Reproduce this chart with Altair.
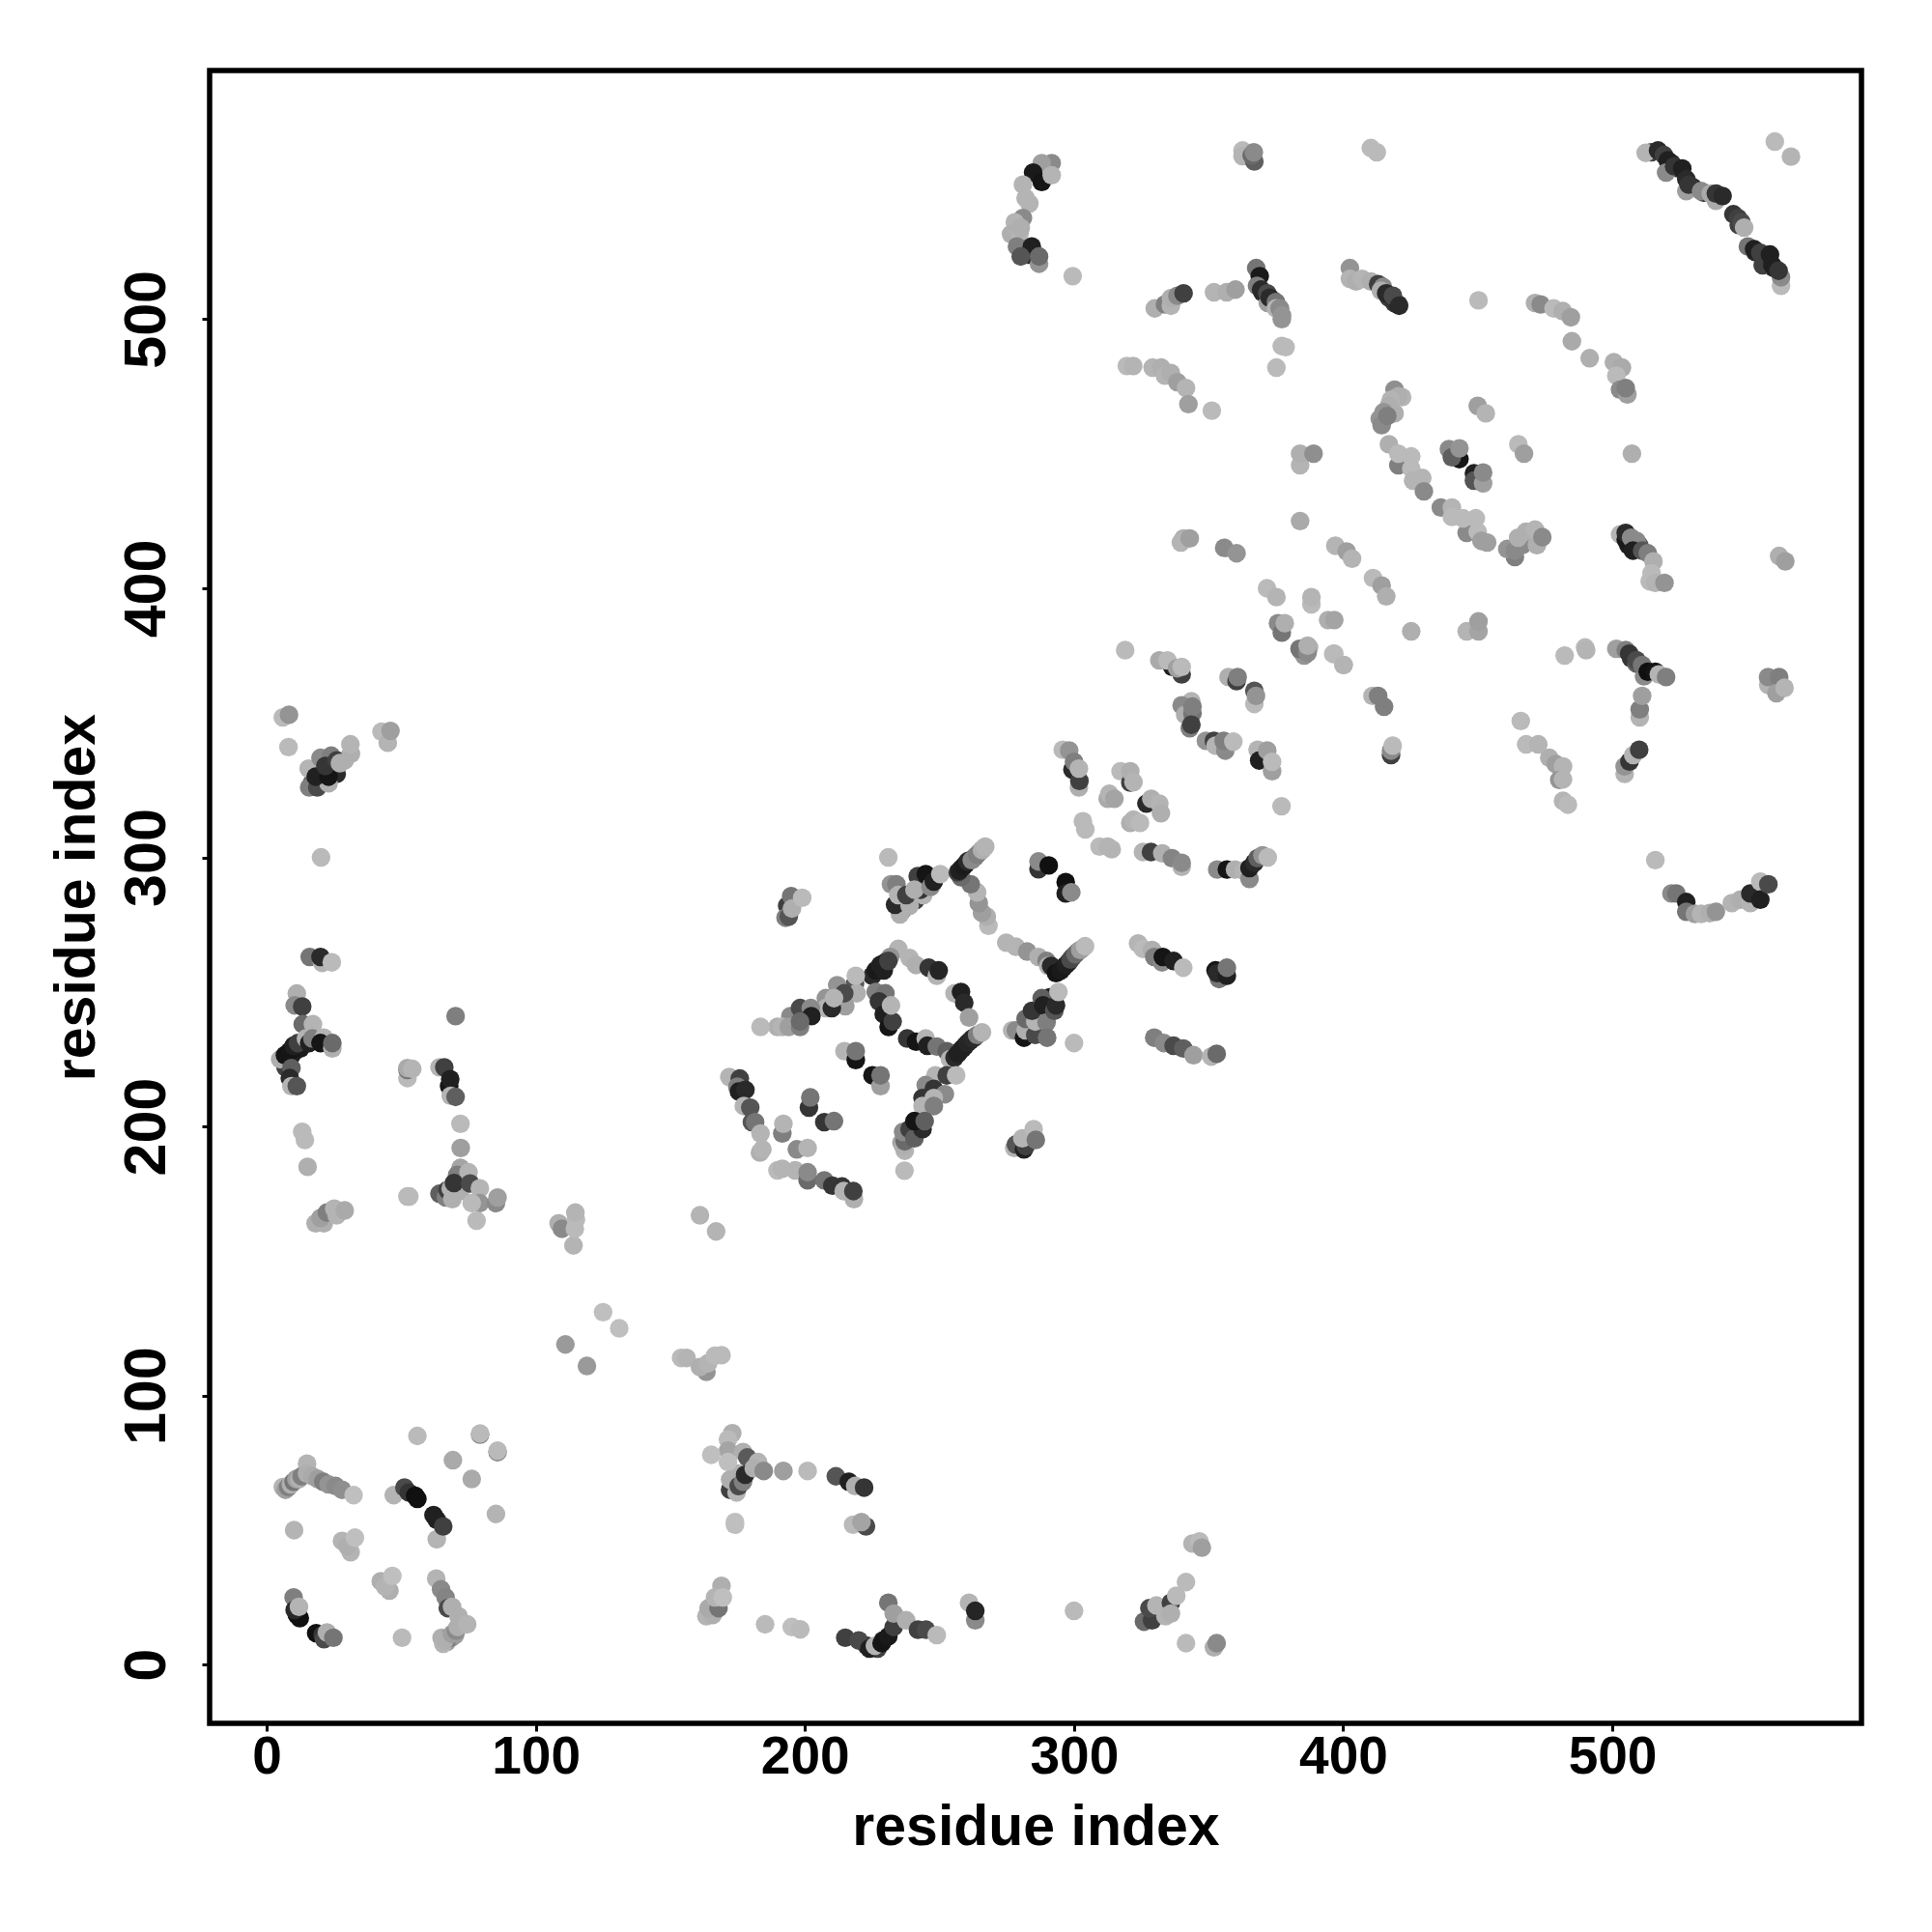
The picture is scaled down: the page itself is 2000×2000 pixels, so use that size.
import altair as alt
import pandas as pd

# each entry: [residue i, residue j, grey level]
dense_under = [[257.5,228,30],[259.5,230,25],[261.3,231.8,35],[263,233,60],[254.5,226,35],[294,257.5,25],[296,259,30],[298,261,40],[299.5,263,60],[301.5,265,120],[303,266,165],
 [258,295.7,30],[259.8,297.5,35],[261,298.8,60],[263,300,100],[265,302,140],[266,303,165],
 [522,558,40],[524.5,556,40],[530,549,40],[534,547,60],[545,539,50],[547,535,60],[553,525,40],[556.5,523,40],[558,522,50],[560,519,40],[514.5,562,60],
 [17,328,90],[19,331,60],[21,329,30],[24,333,70],[26,331,40],[29,336,165],[7.5,224,25],[9,226,20],[10.5,228,30],[12.5,229,25],[7,222,60],
 [65,10,165],[67,8.5,150],[68.5,10,130],[70,11,150],[173,66,70],[174,67,165],[176,69,60],[175,71,165],
 [236,284,50],[239,286,30],[241,284,60],[244,286,170],[236,280,100],[287,240,30],[291,248,30],[290,244,60],[284,237,50],
 [507,374,50],[509,372,90],[512,370,30],[506,416,30],[508,415,60],[510,416,90],[283,524,40],[223,7,40],[227,6,60],[229,9,30],
 [71,180,60],[73,181,120],[70,177,40],[72,176,165],[417,508,60],[419,506,50],[370,510,40],[374,507,60],[372,506,150]]

bottom_left = [[6,66,170],[7,65,150],[8,66,120],[9,67,165],[10,68,110],[11,69,150],[12,69,165],[13,70,120],[15,74.7,170],[15,71,165],[17,70,160],[19,69,150],[21,68,120],[23,67,140],[25.6,66.4,130],[28,65,135],[32.3,63,180],
 [47.2,63,170],[51.2,65.8,70],[52.8,64,50],[55.2,62.8,15],[56,61.6,15],[63.2,46.6,170],[62,55.6,30],[63.2,53.8,30],[65.6,51.4,60],
 [56,85,175],[79.3,85.5,120],[79.3,85.9,175],[85.8,79,120],[85.8,79.5,175],[69.2,76,160],[76.2,69,160],[85.2,56,170],[10.2,50,170],
 [31.2,41.8,170],[28,46,170],[30,44,165],[32.8,47.2,180],[42.4,31,165],[45.6,27.5,165],[44,29,170],[46.7,33,180],
 [65.6,7.8,170],[67.2,9.6,120],[66,9,165],[68.9,11.4,150],[70.4,12.6,130],[71,14,165],[63,32,170],[64.8,28,130],[66.5,25,125],[67.3,21,70],[68.9,21.5,165],[71.3,18,165],[74.5,15,170],[50.3,10,175],
 [10,25,120],[11.2,18.5,20],[12.3,17.3,15],[10.4,20.3,40],[12,21.5,170],[18.4,11.7,15],[20.8,11,50],[21.3,9.5,70],[22.4,12,165],[24.8,10,110]]

lower_mid = [[111,119,145],[119,111,145],[125,131,180],[131,125,180],[154,114,175],[156,114,170],[163.4,108.8,140],[161,110.6,165],[164,112,170],[166.6,114.8,175],[169,115,175],
 [173,86,165],[171.4,83.7,175],[171.4,79.5,155],[165.2,78,180],[177,79,165],[178.6,77,85],[171.4,75.3,180],[182.6,75.3,170],[172.2,65,60],[174.6,64,170],[172.2,68.8,165],[175.4,66.4,70],[177,68,120],[177.8,70.6,40],[181,73,165],[184.7,72,130],[192,72,150],[201,72,175],
 [174,53,180],[174,52,180],[211.5,70,80],[216.3,68,30],[218.7,66.4,165],[222,65.8,50],[217.9,52,175],[222.7,51.4,70],[221,53,155],
 [169,29.3,165],[163.4,18,170],[165.8,18.5,165],[164.2,21,160],[167.9,21,110],[166.6,25,170],[169.5,25,180],[185.2,15,175],[195.1,14,180],[198.3,13.1,175],
 [215,10,60],[220,9,70],[224,6,30],[226,7,170],[228.5,8,20],[231,10.5,25],[233,14,60],[231,23,110],[233,19,150],[237.6,16.5,165],[242,13,60],[245,13,70],[249,11,175],
 [261,23,170],[263.3,16.5,130],[263.3,20,35],[300,20,175],
 [326,16,100],[329,16.5,60],[328,21,70],[330.6,22,170],[336,23,60],[334,18,170],[336,19,165],[338,25.6,175],[341.6,30.7,175],[344,45,170],[346.6,45.8,175],[347.5,43.5,150],[341.6,8,175],[352,6.4,165],[353,8,130]]

left_mid = [[6,352,175],[8.3,353,140],[8.1,341,175],[15.6,333,170],[20,337,130],[24,337.8,120],[15.8,326,120],[18.8,326,70],[23,327.5,165],[18.2,330,30],[23,330,20],[21.8,334,50],[26,336,60],[27.2,335,165],[31.3,338.5,165],[31.1,342,170],
 [42.7,346.7,175],[45,342.6,170],[46,347,150],[20.2,300,175],[16,263,110],[20.6,260.8,170],[20,263,40],[24.2,261,175],
 [11.2,249.4,165],[10.4,245,130],[13.2,244.6,60],[13.4,238,100],[17.2,238,170],[5,225,165],[6.8,226.5,20],[8.6,228,20],[10,230,30],[11.6,231,60],[14.6,232.7,170],[15.8,231,30],[17,232.7,120],[21.2,233,170],[20,231,20],[24.4,229,165],[24.4,231,100],[9.2,221.7,90],[8.6,218,40],[9.2,215,170],[11.2,215,80],
 [13.2,198,175],[14.2,195,175],[15.2,185,165],[70.2,241,120],[52.3,218,175],[52.3,221,110],[52.3,221.7,160],[54.1,221.4,170],[64.2,222,170],[66,222,60],[67.8,215,20],[68.2,217.6,30],[68.4,211.4,170],[70.2,211,90],[72,201,175],[72.1,192,150],
 [72,184.6,155],[70.8,182,120],[75,183,170],[64.2,175,90],[66.6,173.6,120],[67.2,176.4,60],[69,173,165],[68.4,177,165],[69.6,179,50],[75.6,178.8,70],[79.2,177,170],[79.2,171.5,140],[76.2,171.5,175],[85.2,171.5,130],[85.8,173.6,150],[78,165,175],[52.3,174,175],[53,174,175],
 [18.2,164,165],[21.2,164,165],[20,166,150],[22.4,168,120],[26,167,170],[25.1,169.5,170],[29,168.8,160],[108.5,164,165],[109.7,162,130],[114,155.8,170],[114.5,162,175],[114.9,165.4,175],[114.7,168,170],[161,167,170],[167,161,170]]

centre_low = [[193.4,282,60],[192.8,277.6,120],[194,278,80],[194.9,285.6,110],[195.2,281,165],[199,285,175],[231,300,175],
 [232,290,140],[235.3,278.8,165],[233.5,282.4,40],[234,290,120],[234.7,286,170],[238.9,282,165],[237.7,286,60],[241.9,293,60],[243,288,50],[240.7,288,165],[244.9,293.8,20],[246.7,289,130],[247.9,291,30],[250.3,293.8,175],
 [268.2,274.6,175],[267.6,278,165],[265.8,279.4,150],[264.6,283,140],[264,287,170],[261.6,290,110],[258,292.6,100],[256.8,294.4,60],[257.4,295,30],[259,296.7,25],[260.4,298.5,40],[262,299,130],[264,301,120],[265.8,302.7,165],[267,304,170],
 [286.8,295.6,50],[286.8,298.5,130],[290.6,297,15],[296.9,290.8,15],[296.9,286.6,30],[299,287,130],
 [274.8,268.3,170],[278.4,266.8,170],[282.6,265,140],[286.8,263,165],[289.8,261.5,120],[290.4,259.7,165],[291.5,259.7,40],[293.3,257,20],[295.1,258,25],[297,260,30],[298.7,262,70],[300.5,264,100],[302.3,265.6,150],[304.1,267,175],
 [277,235.7,170],[278.4,235.7,130],[281.4,233,20],[282,235.7,165],[282,240,100],[285.6,234,70],[285.6,239,170],[284.4,243,50],[288,247.7,90],[288.5,245,30],[289.8,238.7,120],[290,233,110],[292.7,243,80],[293.3,245,40],[294.2,250,175],[300,231,175],
 [323.8,268,170],[325.6,266,175],[329,265.6,165],[329.8,263,120],[332.7,261,130],[333,263,20],[337,261.5,30],[340.6,259,175],
 [329.8,233,120],[333.4,231,130],[337,230,70],[340.6,229,90],[344.4,226.5,150],[351,226,170],[353,227,100],
 [353.9,254.8,110],[352.6,258,20],[353.2,257,40],[356.8,256,30],[356.8,259,110]]

centre_ring = [[234.7,266,170],[231.7,263,140],[225,256,40],[226.3,258,25],[228,260,30],[229.3,258,30],[229.9,261,30],[231,261.5,60],[238.9,262.6,170],[241.3,260,165],[246,259,50],[249,256,170],[249.7,258,35],
 [218.6,253,80],[219.2,249.5,165],[218.9,256,175],[212,252.5,140],[215,244.7,150],[214.6,249.5,70],[207.8,247.7,140],[207.8,244,170],[210,244,40],[210.8,247.7,170],[194.6,241,130],[198.2,244,70],[202.2,244,130],[202.4,241,30],[189.8,237,165],[191.6,237,170],[194,237,150],[198.2,237,120],[198.2,239,100],[183.5,237,175],
 [226.3,250,120],[229.9,249.5,110],[227.5,246.5,50],[229.3,241.7,30],[231.1,237,20],[232.6,239,60],[232,245,170],
 [238,232.7,50],[241.3,231.5,20],[244.9,232.7,170],[245.5,230,30],[249,229.7,110],[252.7,228,90],
 [255.6,249.5,170],[258,250,30],[259.2,246,40],[261,240.5,150],[253.9,225,170],[255.6,225.6,40],[256.8,227,30],[258.6,229,30],[260.4,231,35],[262.2,232.7,40],[264,234,120],[265.8,235,170],
 [248.5,219,170],[252.7,219,60],[256.2,219,175],[244.9,215.4,130],[247.9,214,50],[252,212,130],[243.7,210.6,50],[247.9,210.6,170],[243.7,207.6,170],[247.9,207.6,120],
 [237,183.6,175],[237.1,191,170],[235.9,194,150],[236.5,192.7,165],[237.1,194.5,100],[236.5,198,130],[238.9,199,60],[240.7,195.6,90],[243.7,199,40],[240.7,202,20],[244.5,202,90],
 [214.7,228,170],[218.9,224.7,20],[218.9,228,110],[225.1,219,20],[228.1,215,150],[228.1,219,110],
 [171.9,218.4,170],[175.8,217.8,60],[174.9,214.8,120],[175.5,213,30],[177.9,213.6,40],[177.3,207.6,170],[179.7,207,80],[180.3,201.6,80],[181.5,201.6,110],[183.5,197.4,170],[183.3,190.3,165],[184.2,191.5,170],
 [191.6,197.4,120],[192,201,170],[201.5,207,50],[202,210.8,110],[207.2,201.6,50],[210.8,202,110],[197,191.5,130],[201,192,170],
 [189.8,183.7,175],[191.6,184.3,170],[196.4,183.7,170],[201,180,100],[201,183,130],[207.2,180,110],[210.2,178,50],[213.8,177.7,50],[214.4,176,170],[218.2,173,165],[218,176,60],
 [277.8,192,170],[278.4,193.3,80],[281.4,191.5,30],[282,192.7,60],[280.8,195.6,170],[285,199,175],[285.8,195,110]]

centre_up = [[319,377,175],[331.7,373.2,160],[336.5,370.8,30],[334.7,373.2,175],[340,368,60],[338.3,370.3,150],[340,370.8,175],
 [357.4,367,165],[360.4,365.5,60],[360.8,367,120],[367,361.9,80],[367,357,175],[367.6,360,140],[410.9,360,170],[413,360,120],[415.2,356,120],
 [384.3,376.8,130],[385.5,375,140],[387.3,378,165],[396.3,375.6,175],[400.1,371.5,170],[417.8,338,60],[417.8,339.7,130],[418.4,341.5,175],
 [343.6,358,170],[340,356.5,130],[341.3,353,165],[344,353.5,110],[344,356,120],[343,348,120],[343.6,349.3,60],
 [349,343.3,140],[352,343.3,60],[352.6,341.5,170],[356.2,339.7,130],[355.6,343.3,120],[359.2,343,175],
 [368.2,340,170],[368.8,336,30],[371.8,339.7,150],[373.6,332,150],[373.6,335.5,175],[377.1,319,175],
 [295.8,340,175],[298.2,339.7,140],[299.4,332.6,40],[300,335.5,120],[301.8,326,165],[302,328.4,60],[301.8,333,170],
 [317.3,332,175],[320.9,327.8,60],[320.9,332,165],[322.1,328,170],[312.5,321.8,160],[313.1,323.6,170],[315,321.8,155],[326.9,320,40],[328.7,321.8,165],[331.7,320,170],[332.3,316.4,165],
 [303.3,313.4,175],[304.2,310.4,175],[320.9,312.8,165],[322.1,314,170],[324.5,312.8,175],[309.5,304,175],[312.5,304,170],[314,303,170],
 [325.6,302,170],[328.6,302,60],[332.8,301.5,165],[336.4,299.7,125],[340,296.5,170],[340,298,130],
 [353.2,295.5,130],[356.8,295.5,20],[359.8,295.5,165],[363,295,170],[365.2,292,130],[365.2,296,30],[367,298,40],[368.2,299.7,90],[370,300.8,140],[372,300,175],
 [340.7,418.5,165],[339.7,417,170],[343,418.5,150],[355.8,415,130],[360.4,413,140]]

upper_right = [[450.3,507,175],[471.3,506,165],[473.4,505.5,130],[478.2,504,175],[481.6,503,165],[484.6,500.7,150],[485,491.8,160],[491.6,485.5,165],[500.6,484,165],[503.6,482,160],[501.5,479,175],[502.9,473.8,130],[505.6,472,150],[505,474.4,120],
 [377.2,490,175],[378.6,489.6,175],[375.2,482,175],[419.1,473.8,135],[421.9,471,170],[420.5,471.4,165],[417.7,470,170],[417,467.8,165],[419.1,465,165],[415,465.4,140],[413.6,463,140],[414.3,460.6,130],[416.4,464,120],
 [450,467.8,150],[453,465,170],[384,445.7,170],[384,450,165],[389,450,135],[417,453.5,165],[420.5,445.7,120],[420.5,450,175],[425.3,449,175],[425.3,444.5,175],[426,440,170],[429.4,441,170],[430,436,130],
 [436.3,430,130],[440.4,430,170],[440.4,426.5,175],[445.9,420.6,130],[444.5,426,175],[449.3,426,175],[450,421,175],[451.4,417.6,150],[453.5,417,150],
 [443.2,448,20],[439.3,451.7,130],[440.4,448.7,90],[443.2,452,140],[448.6,442.7,30],[448.6,440,80],[452,439,150],[452,443,130],[465.1,453.5,175],[467.2,450,150],[507.3,450,165],[384,425,160],
 [397.1,415.8,170],[401.3,413.7,150],[403.3,411,170],[411.1,403.8,175],[414.3,401,150],[416,397,165],[371.7,400,175],[375.2,396.7,170],[388.2,394,175],[388.2,396.7,170],[394.4,388.2,165],[396.7,388.2,155],
 [375.8,387,130],[377.2,383.5,110],[378.3,387,165],[383.8,377.5,110],[386.8,376,130],[386.8,378.7,165],[396.7,375.7,175],[400.2,371.5,170],[425.3,384,165],[445.9,384,170],[450.3,384,155],[450.3,387.7,150],
 [482.3,375,175],[489.9,378,175],[490.3,377,170],[501.5,377.5,150],[505,377,120],[506.3,375.7,50],[509,373.3,70],[511.8,367.3,130],[511.1,371.5,110],[513.2,369,15],[516,369,20],[517.3,368,170],[520,367,120],[510.2,352,170],[510.2,355,120],[511.1,360,150],
 [558,364,170],[557.9,367,130],[562,367,120],[561,361,150],[564,363,170],[562,412,165],[564.3,410,150],
 [502.9,420,170],[505,418,25],[505,420.6,40],[507,418.8,130],[509,417.6,130],[507.7,414,30],[511.1,414,80],[513.2,413,120],[515.3,410,165],[514.6,405.6,175],[513.9,402.6,175],[516,402,170],[519.4,402,140],
 [463.8,411.6,120],[461,414.6,140],[463.8,414,130],[466.5,416,130],[472,416,165],[465,418.8,165],[467.9,421,165],[471.3,421.8,170],[474,419,130],
 [376.5,504,130],[377.2,500,140],[420.5,505.5,40]]

top_right = [[512.4,561.8,170],[517,562.7,40],[519.2,561,60],[520.6,559,30],[520,554.5,130],[523,556.8,50],[527.5,547.6,150],[526,556,30],[527.5,552,40],[528.4,550,50],[533,547.6,130],[536.6,546.7,160],[538.5,544,160],[538.5,546.7,50],[541,545.8,40],
 [546.7,537.6,60],[548,536,70],[549,534,165],[550.4,527,110],[552.7,526,30],[555,524.7,60],[555.9,520,60],[558.6,524,30],[562.7,512.4,175],[562.7,515.6,130],[559.5,520,30],[561.8,518,50],[560.4,566,175],[566.4,560.4,170],
 [291.7,558,130],[288,558,150],[284.8,554.5,25],[288,551,20],[291.7,553.5,170],[281,550,170],[282,545,170],[283.4,543,170],[281,537.6,130],[278,536,170],[276.6,531.6,165],[279.8,532,170],[280.2,534,165],[278.8,527,120],[284.3,527,30],[280.2,523.3,80],[287,520.6,140],[287,523.3,100],[299.5,516,175],
 [362.6,562.7,175],[362.6,560.6,170],[367,558.6,90],[366,560.9,100],[366.8,562,130],[410.3,563.6,175],[412.5,562,175],
 [367.7,519,110],[369,516,25],[368,512.4,120],[369.5,511,40],[371.8,509.6,70],[372.7,508,40],[375,506.4,110],[375,504,170],[376.4,504,130],[377.3,501.4,140],
 [330,504,165],[333.8,505.5,120],[336,505,170],[336,507.8,165],[338.4,508.7,130],[340.7,509.6,60],[352,510,170],[356.7,510,165],[360,511,150],
 [402.5,519,140],[402.5,515,170],[404.8,514,165],[407,515,170],[410.3,514,165],[413,513,60],[414.8,512,130],[414,510.6,165],[416,509.6,40],[418.5,508.7,70],[420.8,505,40],
 [319.6,482.6,175],[322,482.6,170],[329.2,482,170],[332.4,482,165],[333.8,479,170],[336,480,165],[338.4,476.6,150],[341.6,474.4,170],[342.5,468.4,150],[351.2,466,175],
 [516,299,175],[522,286.6,130],[523.8,286.6,110],[527.5,283.4,30],[527.5,279.8,110],[530.7,279,150],[533,279,170],[536.2,279.3,165],[538.5,279.8,140],[544.4,283,170],[547.6,284.3,165],[551.3,283,170],[551.3,286.6,40],[555,291,175],[555,284.3,30],[558,290,70],
 [504.6,331,170],[504.6,333.8,140],[506.4,335.6,50],[507.8,338,170],[510,340,60],
 [466,350.7,175],[468,342,175],[472.5,342,170],[476.6,337,165],[479,334.7,150],[481.7,333.8,170],[480.3,328.8,140],[481.7,329,170],[481.7,321,170],[483.5,319.6,175]]

x_ticks = [0, 100, 200, 300, 400, 500]
y_ticks = [0, 100, 200, 300, 400, 500]
x_domain = [-21.2, 592.6]
y_domain = [-21.8, 592.4]

rows = []
for group in (dense_under, bottom_left, lower_mid, left_mid, centre_low, centre_ring, centre_up, upper_right, top_right):
    for a, b, g in group:
        level = min(255, round(g * 1.06))
        rows.append({"i": a, "j": b, "shade": f"#{level:02x}{level:02x}{level:02x}"})
df = pd.DataFrame(rows)

FONT = "Liberation Sans"

chart = (
    alt.Chart(df)
    .mark_circle(size=375, opacity=1, clip=True)
    .encode(
        x=alt.X("i:Q", scale=alt.Scale(domain=x_domain, nice=False, zero=False),
                axis=alt.Axis(values=x_ticks, title="residue index", grid=False, domain=False,
                              tickColor="black", tickWidth=3, tickSize=8, labelFlush=False,
                              labelFont=FONT, labelFontSize=55, labelFontWeight="bold", labelColor="black",
                              labelPadding=0, labelOverlap=False,
                              titleFont=FONT, titleFontSize=59, titleFontWeight="bold", titleColor="black",
                              titleY=107, titleBaseline="middle")),
        y=alt.Y("j:Q", scale=alt.Scale(domain=y_domain, nice=False, zero=False),
                axis=alt.Axis(values=y_ticks, title="residue index", grid=False, domain=False,
                              tickColor="black", tickWidth=3, tickSize=8, labelFlush=False,
                              labelFont=FONT, labelFontSize=61, labelFontWeight="bold", labelColor="black",
                              labelAngle=270, labelAlign="center", labelBaseline="bottom",
                              labelPadding=26, labelOverlap=False,
                              titleFont=FONT, titleFontSize=59, titleFontWeight="bold", titleColor="black",
                              titleX=-138, titleBaseline="middle")),
        color=alt.Color("shade:N", scale=None, legend=None),
    )
    .properties(
        width=1710, height=1711,
        background="white",
        autosize=alt.AutoSizeParams(type="none"),
        padding={"left": 209, "top": 65, "right": 60, "bottom": 200},
    )
    .configure_view(stroke="black", strokeWidth=5.5, fill="white")
)

chart.save("out.html", embed_options={"renderer": "svg", "actions": False})
